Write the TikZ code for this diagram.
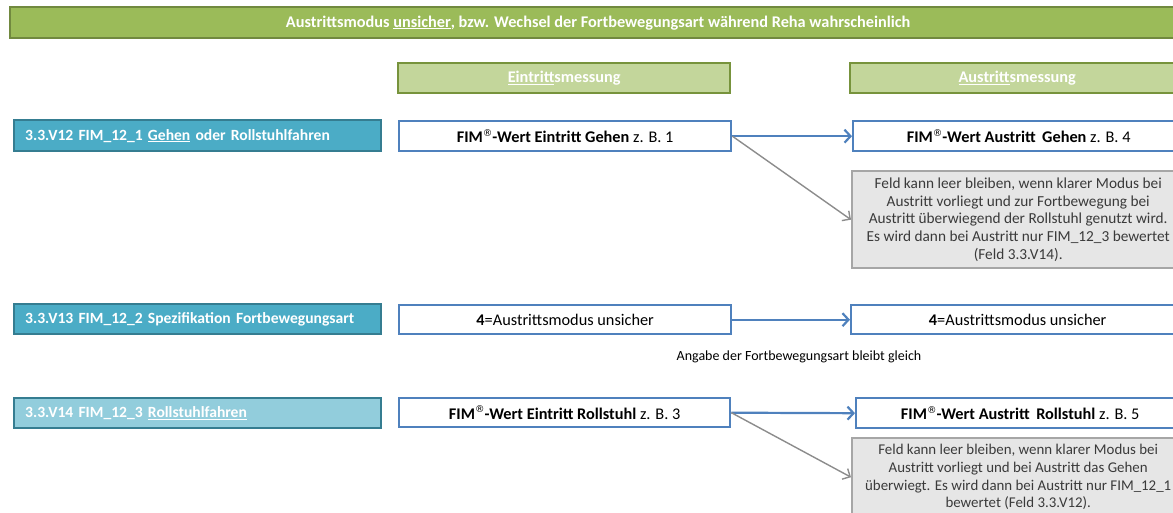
\documentclass[tikz,border=0pt]{standalone}
\usepackage{fontspec}
\setmainfont{Carlito}
\newfontfamily\regfont{DejaVu Sans}
\usetikzlibrary{arrows.meta}
\definecolor{titlefill}{HTML}{9BBB59}
\definecolor{titledraw}{HTML}{71893F}
\definecolor{headfill}{HTML}{C3D69B}
\definecolor{headdraw}{HTML}{77933C}
\definecolor{tealfill}{HTML}{4BACC6}
\definecolor{lteal}{HTML}{92CDDC}
\definecolor{tealdraw}{HTML}{357D91}
\definecolor{bluedraw}{HTML}{4F81BD}
\definecolor{grayfill}{HTML}{E6E6E6}
\definecolor{graydraw}{HTML}{A6A6A6}
\definecolor{grayarrow}{HTML}{8C8C8C}
\definecolor{graytext}{HTML}{3A3A3A}
\newcommand{\regmark}{\raisebox{0.38em}{\regfont\fontsize{9.5}{10}\selectfont\mdseries ®}}
\begin{document}
\begin{tikzpicture}[x=1pt,y=-1pt,
  base/.style={anchor=north west,inner sep=0pt,line width=2.4pt},
  titlebox/.style={base,fill=titlefill,draw=titledraw,text=white,font=\fontsize{16.3}{18}\selectfont\bfseries},
  headbox/.style={base,fill=headfill,draw=headdraw,text=white,font=\fontsize{16.3}{18}\selectfont\bfseries},
  labbox/.style={base,fill=tealfill,draw=tealdraw,text=white,font=\fontsize{15.6}{18}\selectfont\bfseries,text width=#1,align=left},
  labboxl/.style={labbox=#1,fill=lteal},
  valbox/.style={base,fill=white,draw=bluedraw,font=\fontsize{16.3}{18}\selectfont},
  notebox/.style={base,fill=grayfill,draw=graydraw,text=graytext,align=center,font=\fontsize{15.3}{17.6}\selectfont},
  bluearrow/.style={draw=bluedraw,line width=2.2pt,-{Straight Barb[length=6pt,width=13pt]}},
  grayarr/.style={draw=grayarrow,line width=1.4pt,-{Straight Barb[length=6pt,width=12pt]}},
  smalltext/.style={font=\fontsize{14}{16}\selectfont,inner sep=0pt}
]
\useasboundingbox (0,0) rectangle (1173,513);
\clip (0,0) rectangle (1173,513);

\node[titlebox,minimum width=1176pt,minimum height=31pt] (title) at (9,6)
  {Austrittsmodus \underline{unsicher}, bzw. Wechsel der Fortbewegungsart während Reha wahrscheinlich};

\node[headbox,minimum width=332pt,minimum height=30pt] (hein) at (397,62)
  {\underline{Eintritt}smessung};
\node[headbox,minimum width=334pt,minimum height=30pt] (haus) at (849,62)
  {\underline{Austritt}smessung};

% left labels
\node[labbox=345pt,minimum width=367pt,minimum height=31pt] (l1) at (13,119)
  {3.3.V12 FIM\_12\_1 \underline{Gehen} oder Rollstuhlfahren};
\node[labbox=345pt,minimum width=367pt,minimum height=30pt] (l2) at (13,303)
  {3.3.V13 FIM\_12\_2 Spezifikation Fortbewegungsart};
\node[labboxl=345pt,minimum width=367pt,minimum height=30pt] (l3) at (13,397)
  {3.3.V14 FIM\_12\_3 \underline{Rollstuhlfahren}};

% middle
\node[valbox,minimum width=332pt,minimum height=30pt] (m1) at (398,120)
  {\textbf{FIM\regmark-Wert Eintritt Gehen} z. B. 1};
\node[valbox,minimum width=332pt,minimum height=29pt] (m2) at (398,304)
  {\textbf{4}=Austrittsmodus unsicher};
\node[valbox,minimum width=331pt,minimum height=29pt] (m3) at (398,397)
  {\textbf{FIM\regmark-Wert Eintritt Rollstuhl} z. B. 3};

% right
\node[valbox,minimum width=331pt,minimum height=30pt] (r1) at (852,120)
  {\textbf{FIM\regmark-Wert Austritt\, Gehen} z. B. 4};
\node[valbox,minimum width=333pt,minimum height=29pt] (r2) at (850,304)
  {\textbf{4}=Austrittsmodus unsicher};
\node[valbox,minimum width=328pt,minimum height=30pt] (r3) at (855,397)
  {\textbf{FIM\regmark-Wert Austritt\, Rollstuhl} z. B. 5};

% notes
\node[notebox,minimum width=332pt,minimum height=97pt] (g1) at (851,170)
  {Feld kann leer bleiben, wenn klarer Modus bei\\
   Austritt vorliegt und zur Fortbewegung bei\\
   Austritt überwiegend der Rollstuhl genutzt wird.\\
   Es wird dann bei Austritt nur FIM\_12\_3 bewertet\\
   (Feld 3.3.V14).};
\node[notebox,font=\fontsize{14.9}{17.6}\selectfont,minimum width=332pt,minimum height=78pt] (g2) at (851,437)
  {Feld kann leer bleiben, wenn klarer Modus bei\\
   Austritt vorliegt und bei Austritt das Gehen\\
   überwiegt. Es wird dann bei Austritt nur FIM\_12\_1\\
   bewertet (Feld 3.3.V12).};

\node[smalltext] (lab) at (799,357) {Angabe der Fortbewegungsart bleibt gleich};

% connectors
\draw[bluearrow] (m1.east) -- (r1.west);
\draw[grayarr] (m1.east) -- (g1.west);
\draw[bluearrow] (m2.east) -- (r2.west);
\draw[bluearrow] (m3.east) -- (r3.west);
\draw[grayarr] (m3.east) -- (g2.west);
\end{tikzpicture}
\end{document}
